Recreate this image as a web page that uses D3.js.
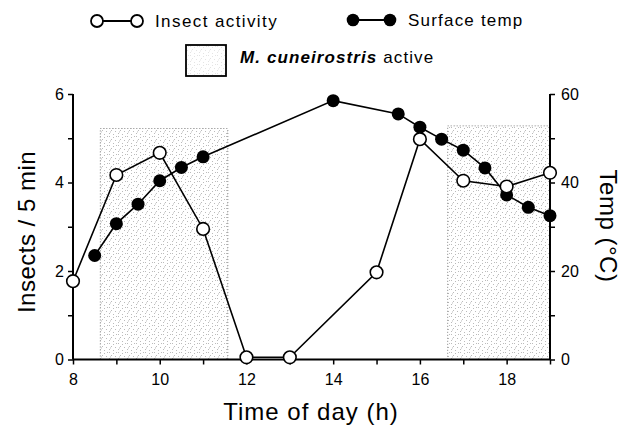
<!DOCTYPE html>
<html><head><meta charset="utf-8">
<script src="https://cdn.jsdelivr.net/npm/d3@7"></script>
<style>body{margin:0;background:#fff}svg{display:block}text{font-family:"Liberation Sans",Arial,sans-serif;fill:#000}</style>
</head><body>
<script>
// Data
const insectHours = [8, 9, 10, 11, 12, 13, 15, 16, 17, 18, 19];
const insectCounts = [1.77, 4.17, 4.67, 2.95, 0.05, 0.05, 1.97, 4.98, 4.04, 3.91, 4.22];
const tempHours = [8.5, 9, 9.5, 10, 10.5, 11, 14, 15.5, 16, 16.5, 17, 17.5, 18, 18.5, 19];
const tempValues = [23.5, 30.7, 35.1, 40.4, 43.4, 45.8, 58.5, 55.5, 52.5, 49.8, 47.3, 43.3, 37.2, 34.4, 32.5];
const activeStart = [8.63, 16.64];
const activeEnd = [11.57, 19];
const activeTop = [5.22, 5.28];
const xTicks = [8, 10, 12, 14, 16, 18];
const yLeftTicks = [0, 2, 4, 6];
const yRightTicks = [0, 20, 40, 60];

const W = 629, H = 427;
const svg = d3.select("body").append("svg").attr("width", W).attr("height", H);

const x = d3.scaleLinear().domain([8, 19]).range([73, 550]);
const yL = d3.scaleLinear().domain([0, 6]).range([359.5, 94]);
const yR = d3.scaleLinear().domain([0, 60]).range([359.5, 94]);

// stipple pattern
const defs = svg.append("defs");
const pat = defs.append("pattern").attr("id", "stip").attr("patternUnits", "userSpaceOnUse")
  .attr("width", 9).attr("height", 9);
[[1,1],[5,2],[3,4],[7,5],[1,7],[5,8],[8,1],[2,5.5]].forEach(p =>
  pat.append("rect").attr("x", p[0]).attr("y", p[1]).attr("width", 0.9).attr("height", 0.9).attr("fill", "#aaa"));

// active regions
const regions = activeStart.map((s, i) => ({s, e: activeEnd[i], t: activeTop[i]}));
svg.selectAll("rect.active").data(regions).join("rect").attr("class", "active")
  .attr("x", d => x(d.s)).attr("y", d => yL(d.t))
  .attr("width", d => x(d.e) - x(d.s)).attr("height", d => yL(0) - yL(d.t))
  .attr("fill", "url(#stip)").attr("stroke", "#666").attr("stroke-width", 0.8)
  .attr("stroke-dasharray", "1,2");

// axes
const axL = d3.axisLeft(yL).tickValues(d3.range(0, 7, 1)).tickSize(5).tickFormat(d => yLeftTicks.includes(d) ? d : "");
const axR = d3.axisRight(yR).tickValues(d3.range(0, 70, 10)).tickSize(5).tickFormat(d => yRightTicks.includes(d) ? d : "");
const axB = d3.axisBottom(x).tickValues(d3.range(8, 20, 1)).tickSize(5).tickFormat(d => xTicks.includes(d) ? d : "");

function style(g) {
  g.select(".domain").attr("stroke", "#000").attr("stroke-width", 2);
  g.selectAll(".tick line").attr("stroke", "#000").attr("stroke-width", 1.5);
  g.selectAll(".tick text").attr("font-size", 16).attr("font-family", "Liberation Sans, Arial, sans-serif").attr("fill", "#000");
}
svg.append("g").attr("transform", `translate(${x(8)},0)`).call(axL).call(style)
  .call(g => g.select(".domain").attr("d", `M0,${yL(0)}V${yL(6)}`))
  .call(g => g.selectAll(".tick text").attr("x", -9));
svg.append("g").attr("transform", `translate(${x(19)},0)`).call(axR).call(style)
  .call(g => g.select(".domain").attr("d", `M0,${yR(0)}V${yR(60)}`))
  .call(g => g.selectAll(".tick text").attr("x", 11));
svg.append("g").attr("transform", `translate(0,${yL(0)})`).call(axB).call(style)
  .call(g => g.select(".domain").attr("d", `M${x(8)},0H${x(19)}`))
  .call(g => g.selectAll(".tick text").attr("y", 14));

// titles
svg.append("text").attr("x", 311).attr("y", 420).attr("text-anchor", "middle")
  .attr("font-size", 24).attr("letter-spacing", 1).text("Time of day (h)");
svg.append("text").attr("transform", "translate(35,232) rotate(-90)").attr("text-anchor", "middle")
  .attr("font-size", 24).attr("letter-spacing", 0.5).text("Insects / 5 min");
svg.append("text").attr("transform", "translate(600,226) rotate(90)").attr("text-anchor", "middle")
  .attr("font-size", 24).attr("letter-spacing", 0.5).text("Temp (°C)");

// lines
const tempData = tempHours.map((h, i) => ({h, v: tempValues[i]}));
const insData = insectHours.map((h, i) => ({h, v: insectCounts[i]}));
svg.append("path").datum(tempData).attr("fill", "none").attr("stroke", "#000").attr("stroke-width", 1.6)
  .attr("d", d3.line().x(d => x(d.h)).y(d => yR(d.v)));
svg.append("path").datum(insData).attr("fill", "none").attr("stroke", "#000").attr("stroke-width", 1.6)
  .attr("d", d3.line().x(d => x(d.h)).y(d => yL(d.v)));
svg.selectAll("circle.t").data(tempData).join("circle").attr("class", "t")
  .attr("cx", d => x(d.h)).attr("cy", d => yR(d.v)).attr("r", 6.5).attr("fill", "#000");
svg.selectAll("circle.i").data(insData).join("circle").attr("class", "i")
  .attr("cx", d => x(d.h)).attr("cy", d => yL(d.v)).attr("r", 6.3)
  .attr("fill", "#fff").attr("stroke", "#000").attr("stroke-width", 1.6);

// legend
const lg = svg.append("g");
lg.append("line").attr("x1", 97).attr("x2", 137).attr("y1", 21).attr("y2", 21).attr("stroke", "#000").attr("stroke-width", 2);
[97, 137].forEach(cx => lg.append("circle").attr("cx", cx).attr("cy", 21).attr("r", 6).attr("fill", "#fff").attr("stroke", "#000").attr("stroke-width", 1.8));
lg.append("text").attr("x", 155).attr("y", 27).attr("font-size", 17).attr("letter-spacing", 1.4).text("Insect activity");
lg.append("line").attr("x1", 353).attr("x2", 390).attr("y1", 20).attr("y2", 20).attr("stroke", "#000").attr("stroke-width", 2);
[353, 390].forEach(cx => lg.append("circle").attr("cx", cx).attr("cy", 20).attr("r", 6.3).attr("fill", "#000"));
lg.append("text").attr("x", 408).attr("y", 26).attr("font-size", 17).attr("letter-spacing", 1.2).text("Surface temp");
lg.append("rect").attr("x", 186).attr("y", 45).attr("width", 40).attr("height", 31)
  .attr("fill", "url(#stip)").attr("fill-opacity", 0.4).attr("stroke", "#000").attr("stroke-width", 1.8);
const t2 = lg.append("text").attr("x", 240).attr("y", 63).attr("font-size", 17).attr("letter-spacing", 1.1);
t2.append("tspan").attr("font-style", "italic").attr("font-weight", "bold").text("M. cuneirostris");
t2.append("tspan").text("  active");
</script>
</body></html>
